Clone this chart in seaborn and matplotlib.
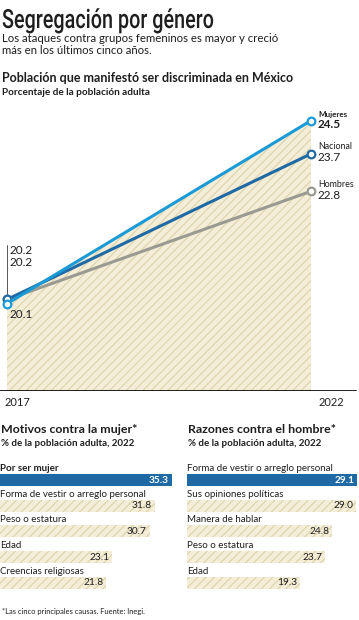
#!/usr/bin/env python3

"""Segregacion por genero: line chart plus two bar panels."""

import seaborn as sns
import pandas as pd
import matplotlib.pyplot as plt
from matplotlib.patheffects import AbstractPathEffect
from matplotlib.transforms import Affine2D

# DATA
years = [2017, 2022]
mujeres = [20.1, 24.5]
nacional = [20.2, 23.7]
hombres = [20.2, 22.8]

motivos_mujer = ["Por ser mujer", "Forma de vestir o arreglo personal",
                 "Peso o estatura", "Edad", "Creencias religiosas"]
motivos_mujer_val = [35.3, 31.8, 30.7, 23.1, 21.8]

razones_hombre = ["Forma de vestir o arreglo personal", "Sus opiniones políticas",
                  "Manera de hablar", "Peso o estatura", "Edad"]
razones_hombre_val = [29.1, 29.0, 24.8, 23.7, 19.3]

# STYLE
sns.set_theme(style="white")
plt.rcParams['font.family'] = ['Lato', 'DejaVu Sans']
plt.rcParams['hatch.linewidth'] = 0.8

C_MUJ = "#1a9bd7"
C_NAC = "#1f6aa5"
C_HOM = "#9b9a92"
C_FILL = "#f4eed8"
C_HATCH = "#dcd2ab"
C_TXT = "#1e1e1e"

W, H = 359, 620
fig = plt.figure(figsize=(W / 100, H / 100), dpi=100)
fig.patch.set_facecolor("white")


class Squeeze(AbstractPathEffect):
    """narrows glyphs horizontally (no condensed font installed)"""
    def __init__(self, sx, x0):
        super().__init__()
        self.sx, self.x0 = sx, x0

    def draw_path(self, renderer, gc, tpath, affine, rgbFace=None):
        aff = affine + Affine2D().translate(-self.x0, 0).scale(self.sx, 1).translate(self.x0, 0)
        renderer.draw_path(gc, tpath, aff, rgbFace)


def px_axes(x0, y0, x1, y1):
    """axes from pixel box (top-left origin)"""
    return fig.add_axes([x0 / W, 1 - y1 / H, (x1 - x0) / W, (y1 - y0) / H])


def ftext(x, y, s, **kw):
    return fig.text(x / W, 1 - y / H, s, color=kw.pop("color", C_TXT), **kw)


# HEADERS
ftext(2, 28, "Segregación por género", fontsize=19, family=['Roboto', 'DejaVu Sans'],
      fontweight="medium", va="baseline", path_effects=[Squeeze(0.75, 2)])
ftext(2, 42, "Los ataques contra grupos femeninos es mayor y creció", fontsize=8.2, va="baseline")
ftext(2, 54, "más en los últimos cinco años.", fontsize=8.2, va="baseline")
ftext(2, 82, "Población que manifestó ser discriminada en México", fontsize=9,
      fontweight="bold", va="baseline")
ftext(2, 95, "Porcentaje de la población adulta", fontsize=7.2, fontweight="bold", va="baseline")

# LINE CHART
ax = px_axes(0, 105, W, 391)
ax.fill_between(years, 18.0, mujeres, facecolor=C_FILL, edgecolor=C_HATCH,
                hatch="////", linewidth=0, zorder=1)

df = pd.DataFrame({
    "year": years * 3,
    "value": hombres + nacional + mujeres,
    "serie": ["Hombres"] * 2 + ["Nacional"] * 2 + ["Mujeres"] * 2,
})
pal = {"Hombres": C_HOM, "Nacional": C_NAC, "Mujeres": C_MUJ}
sns.lineplot(data=df, x="year", y="value", hue="serie", palette=pal, linewidth=2.2,
             marker="o", markersize=5.5, markerfacecolor="white", markeredgewidth=1.6,
             legend=False, ax=ax, zorder=3)
for ln, c in zip(ax.lines, [C_HOM, C_NAC, C_MUJ]):
    ln.set_markeredgecolor(c)

ax.set_xlim(2017 - 7 / 60.8, 2017 + (W - 7) / 60.8)
ax.set_ylim(18.0, 18.0 + 286 / 41.6)
ax.set_axis_off()
ax.axhline(18.0, xmin=0, xmax=356 / W, color=C_TXT, linewidth=1.4, zorder=4)

# end labels
ax.annotate("Mujeres", (2022, mujeres[1]), xytext=(5, 2), textcoords="offset points",
            fontsize=5.8, fontweight="bold", va="bottom", ha="left", color=C_TXT)
ax.annotate("24.5", (2022, mujeres[1]), xytext=(5, 1), textcoords="offset points",
            fontsize=8.5, fontweight="bold", va="top", ha="left", color=C_TXT)
ax.annotate("Nacional", (2022, nacional[1]), xytext=(5, 2), textcoords="offset points",
            fontsize=6.4, va="bottom", ha="left", color=C_TXT)
ax.annotate("23.7", (2022, nacional[1]), xytext=(5, 1), textcoords="offset points",
            fontsize=8.5, va="top", ha="left", color=C_TXT)
ax.annotate("Hombres", (2022, hombres[1]), xytext=(5, 2), textcoords="offset points",
            fontsize=6.4, va="bottom", ha="left", color=C_TXT)
ax.annotate("22.8", (2022, hombres[1]), xytext=(5, 1), textcoords="offset points",
            fontsize=8.5, va="top", ha="left", color=C_TXT)
# start labels
ax.plot([2017, 2017], [nacional[0] + 0.1, nacional[0] + 1.3], color="#555555",
        linewidth=0.7, zorder=2)
ax.annotate("20.2", (2017, nacional[0]), xytext=(2, 31.5), textcoords="offset points",
            fontsize=8.5, va="bottom", ha="left", color=C_TXT)
ax.annotate("20.2", (2017, hombres[0]), xytext=(2, 23), textcoords="offset points",
            fontsize=8.5, va="bottom", ha="left", color=C_TXT)
ax.annotate("20.1", (2017, mujeres[0]), xytext=(2, -4), textcoords="offset points",
            fontsize=8.5, va="top", ha="left", color=C_TXT)

ftext(5, 406, "2017", fontsize=8, va="baseline")
ftext(331, 406, "2022", fontsize=8, va="baseline", ha="center")


# BAR PANELS
def bar_panel(x0, x1, scale, cats, vals, title, sub):
    ftext(x0 + 1, 433, title, fontsize=8.9, fontweight="bold", va="baseline")
    ftext(x0 + 1, 446, sub, fontsize=7, fontweight="bold", va="baseline")
    bax = px_axes(x0, 467.2, x1, 595.7)
    bdf = pd.DataFrame({"cat": cats, "val": vals})
    sns.barplot(data=bdf, x="val", y="cat", orient="h", color=C_FILL, width=0.47,
                ax=bax, saturation=1)
    for i, p in enumerate(bax.patches):
        p.set_linewidth(0)
        if i == 0:
            p.set_facecolor(C_NAC)
        else:
            p.set_edgecolor(C_HATCH)
            p.set_hatch("////")
    bax.set_xlim(0, (x1 - x0) / scale)
    bax.set_ylim(4.5, -0.5)
    bax.set_axis_off()
    for i, (c, v) in enumerate(zip(cats, vals)):
        bax.text(0.05, i - 0.28, c, fontsize=7, va="bottom", ha="left", color=C_TXT,
                 fontweight="bold" if (i == 0 and x0 == 0) else "normal")
        bax.annotate(f"{v:.1f}", (v, i), xytext=(-2, 0), textcoords="offset points",
                     fontsize=7.3, ha="right", va="center",
                     color="white" if i == 0 else C_TXT,
                     fontweight="bold" if i == 0 else "normal")


bar_panel(0, 175, 4.87, motivos_mujer, motivos_mujer_val,
          "Motivos contra la mujer*", "% de la población adulta, 2022")
bar_panel(187, W, 5.84, razones_hombre, razones_hombre_val,
          "Razones contra el hombre*", "% de la población adulta, 2022")

ftext(2, 614, "*Las cinco principales causas. Fuente: Inegi.", fontsize=5.4, va="baseline")

plt.savefig("out.png", dpi=100)
